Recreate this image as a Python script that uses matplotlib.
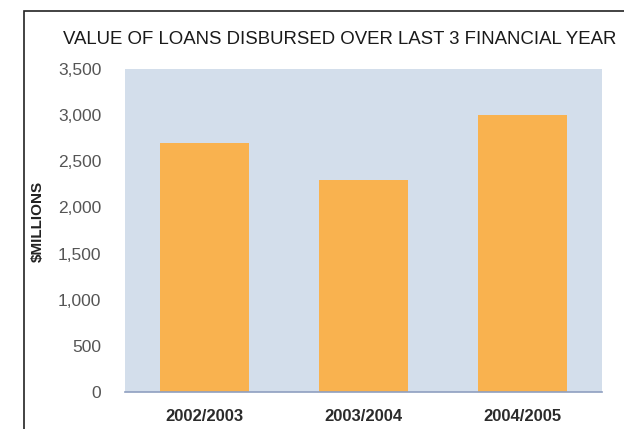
import matplotlib
matplotlib.use("Agg")
import matplotlib.pyplot as plt
from matplotlib import font_manager
from matplotlib.patches import Rectangle
from matplotlib.ticker import FuncFormatter

# --- Data ---
years = ["2002/2003", "2003/2004", "2004/2005"]
loans = [2700, 2300, 3000]  # $ millions
yticks = [0, 500, 1000, 1500, 2000, 2500, 3000, 3500]
title = "VALUE OF LOANS DISBURSED OVER LAST 3 FINANCIAL YEAR"

W, H = 624, 429
fig = plt.figure(figsize=(W / 100, H / 100), dpi=100)
plt.rcParams['font.family'] = ['Liberation Sans', 'DejaVu Sans']

names = {f.name for f in font_manager.fontManager.ttflist}
narrow = "Liberation Sans Narrow" if "Liberation Sans Narrow" in names else "Liberation Sans"

# axes placed to match the pixel layout of the reference
left, right, top, bottom = 125, 602, 69, 392
ax = fig.add_axes([left / W, 1 - bottom / H, (right - left) / W, (bottom - top) / H])
ax.set_facecolor("#d3deeb")

ax.bar(range(len(years)), loans, width=0.565, color="#f9b24f", zorder=2)
ax.set_xlim(-0.5, len(years) - 0.5)
ax.set_ylim(0, 3500)

ax.set_yticks(yticks)
ax.yaxis.set_major_formatter(FuncFormatter(lambda v, p: f"{int(v):,}"))
ax.set_xticks(range(len(years)))
ax.set_xticklabels(years, fontsize=12, color="#2b2b2b", fontweight="bold")
ax.tick_params(axis="y", length=0, pad=17, labelsize=12.5, labelcolor="#555555")
ax.tick_params(axis="x", length=0, pad=12)

for side in ["top", "right", "left"]:
    ax.spines[side].set_visible(False)
ax.spines["bottom"].set_color("#8f9fc0")
ax.spines["bottom"].set_linewidth(1.2)

ax.set_ylabel("$MILLIONS", fontsize=11, fontweight="bold", color="#222222",
              family=[narrow, "DejaVu Sans"])
ax.yaxis.set_label_coords((45 - left) / (right - left), (bottom - 221) / (bottom - top))

t = fig.text(63 / W, 1 - 40 / H, title, fontsize=15, color="#1a1a1a",
             ha="left", va="center", family=[narrow, "DejaVu Sans"])
# shrink the title so it ends just inside the right edge
renderer = fig.canvas.get_renderer()
w = t.get_window_extent(renderer).width
t.set_fontsize(15 * min(1.0, 557 / w))

# outer frame (only left and top edges visible in the crop)
fig.patches.append(Rectangle((24 / W, -0.05), 1.1, 1 - 11 / H + 0.05,
                             transform=fig.transFigure, fill=False,
                             edgecolor="#222222", linewidth=1.2))

fig.savefig("out.png", dpi=100)
